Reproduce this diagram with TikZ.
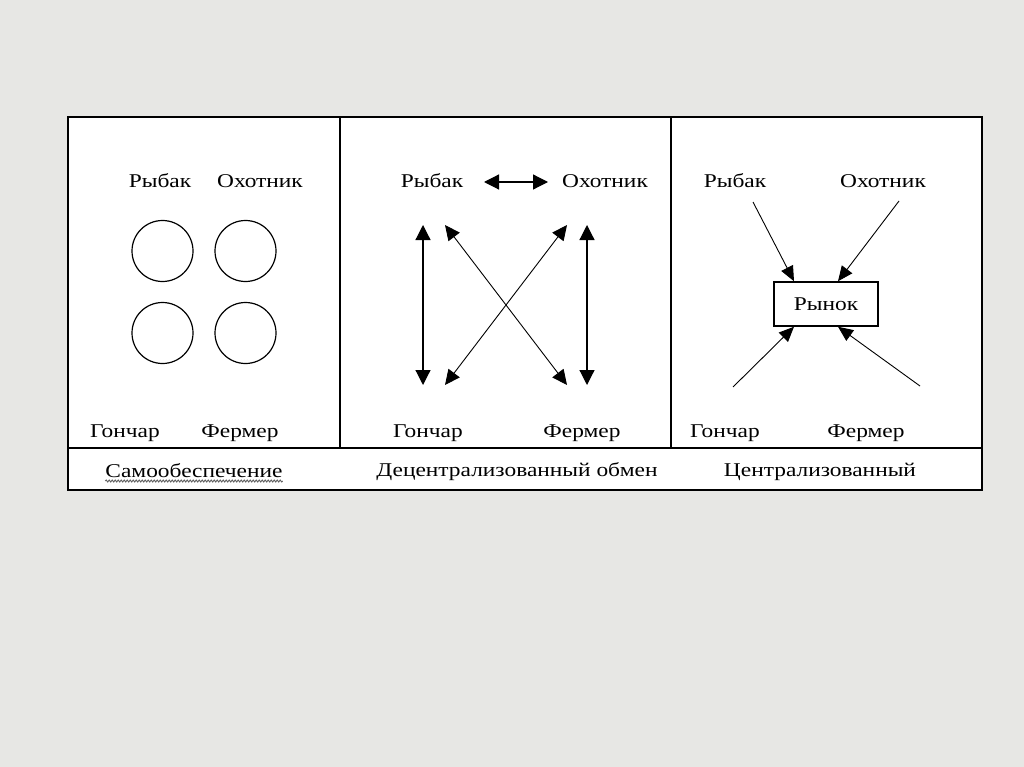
\documentclass[tikz,border=0pt]{standalone}
\usepackage{fontspec}
\setmainfont{Liberation Serif}[FakeStretch=1.2]
\usetikzlibrary{arrows.meta,decorations.pathmorphing}
\definecolor{bg}{RGB}{231,231,228}
\definecolor{squig}{RGB}{95,95,95}
\tikzset{
  lbl/.style={font=\fontsize{19.5}{22}\selectfont, inner sep=0pt, anchor=base},
  ttl/.style={font=\fontsize{19.5}{22}\selectfont, inner sep=0pt, anchor=base},
  frame/.style={draw=black, line width=1.3pt},
  ring/.style={draw=black, line width=1.2pt, circle, minimum size=61pt, inner sep=0pt},
  dbl/.style={line width=1.2pt, {Triangle[length=15pt,width=15pt]}-{Triangle[length=15pt,width=15pt]}},
  thin dbl/.style={line width=0.9pt, {Triangle[length=15pt,width=14pt]}-{Triangle[length=15pt,width=14pt]}},
  one/.style={line width=0.9pt, -{Triangle[length=15pt,width=13pt]}},
  mkt/.style={draw=black, line width=1.5pt, minimum width=104pt, minimum height=44pt, inner sep=0pt, font=\fontsize{19.5}{22}\selectfont}
}
\begin{document}
\begin{tikzpicture}[x=1pt,y=-1pt]
\useasboundingbox (0,0) rectangle (1024,767);
\fill[bg] (0,0) rectangle (1024,767);
% frame
\fill[white] (68,117) rectangle (982,490);
\draw[frame] (68,117) rectangle (982,490);
\draw[frame] (340,117) -- (340,448);
\draw[frame] (671,117) -- (671,448);
\draw[frame] (68,448) -- (982,448);

% panel 1
\node[lbl] (r1) at (160,188) {Рыбак};
\node[lbl] (o1) at (260,188) {Охотник};
\node[ring] (c1) at (162.5,251) {};
\node[ring] (c2) at (245.5,251) {};
\node[ring] (c3) at (162.5,333) {};
\node[ring] (c4) at (245.5,333) {};
\node[lbl] (g1) at (125,437) {Гончар};
\node[lbl] (f1) at (240,437) {Фермер};
\node[ttl] (t1) at (194,477) {Самообеспечение};
\draw[squig, line width=0.9pt, decorate, decoration={snake, amplitude=1pt, segment length=3pt}] ([yshift=-4pt]t1.base west) -- ([yshift=-4pt]t1.base east);

% panel 2
\node[lbl] (r2) at (432,188) {Рыбак};
\node[lbl] (o2) at (605,188) {Охотник};
\node[lbl] (g2) at (428,437) {Гончар};
\node[lbl] (f2) at (582,437) {Фермер};
\node[ttl] (t2) at (517,476) {Децентрализованный обмен};
\coordinate (a1) at (484,182); \coordinate (a2) at (548,182);
\draw[dbl] (a1) -- (a2);
\coordinate (lt) at (423,225); \coordinate (lb) at (423,385);
\coordinate (rt) at (587,225); \coordinate (rb) at (587,385);
\coordinate (dtl) at (445,225); \coordinate (dbr) at (567,385);
\coordinate (dtr) at (567,225); \coordinate (dbl) at (445,385);
\draw[dbl] (lt) -- (lb);
\draw[dbl] (rt) -- (rb);
\draw[thin dbl] (dtl) -- (dbr);
\draw[thin dbl] (dtr) -- (dbl);

% panel 3
\node[lbl] (r3) at (735,188) {Рыбак};
\node[lbl] (o3) at (883,188) {Охотник};
\node[lbl] (g3) at (725,437) {Гончар};
\node[lbl] (f3) at (866,437) {Фермер};
\node[ttl] (t3) at (820,476) {Централизованный};
\node[mkt] (m) at (826,304) {Рынок};
\coordinate (s1) at (753,202); \coordinate (s2) at (899,201);
\coordinate (s3) at (733,387); \coordinate (s4) at (920,386);
\draw[one] (s1) -- (m.north west -| 794,0);
\draw[one] (s2) -- (m.north west -| 838,0);
\draw[one] (s3) -- (m.south west -| 794,0);
\draw[one] (s4) -- (m.south west -| 838,0);
\end{tikzpicture}
\end{document}
